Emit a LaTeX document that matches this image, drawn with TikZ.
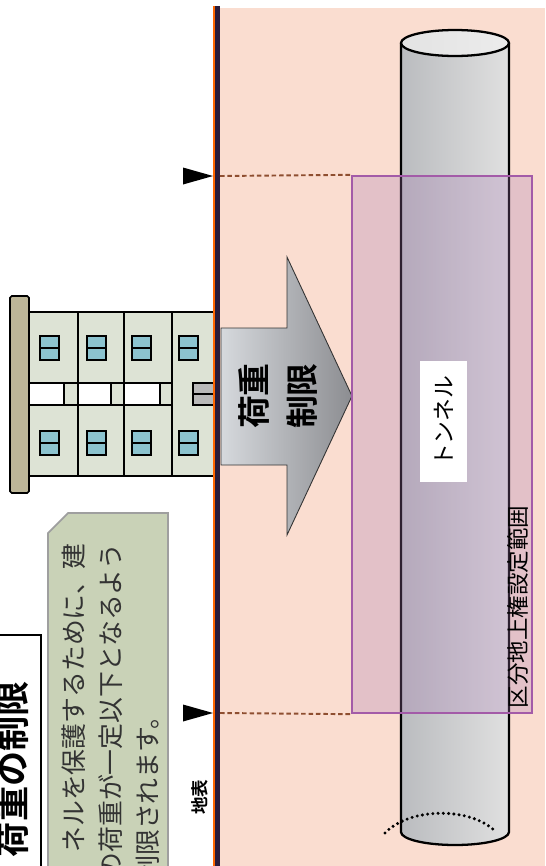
\documentclass[tikz,border=0pt]{standalone}
\usepackage{fontspec}
\setmainfont{Noto Sans CJK JP}[BoldFont={Noto Sans CJK JP Bold}]

\definecolor{soil}{HTML}{FADDD0}
\definecolor{wall}{HTML}{DDE3D5}
\definecolor{glass}{HTML}{8CC3CF}
\definecolor{plate}{HTML}{BDB698}
\definecolor{notebg}{HTML}{C9D2B7}
\definecolor{zonec}{HTML}{A35BA8}
\definecolor{zonefill}{HTML}{A878B4}
\definecolor{dashc}{HTML}{8E4E30}
\definecolor{surf}{HTML}{2A1C3A}
\definecolor{arrowL}{HTML}{D6D9DD}
\definecolor{arrowR}{HTML}{8C8D91}
\definecolor{tubeL}{HTML}{BABCBF}
\definecolor{tubeM}{HTML}{EDEDED}
\definecolor{tubeR}{HTML}{E0E0E0}

\begin{document}
\begin{tikzpicture}[x=0.02cm, y=-0.02cm,
	win/.style = {draw=black, line width=0.9pt, fill=glass},
	cut/.style = {dashc, dash pattern=on 2.6pt off 1.6pt, line width=1.1pt},
	lbl/.style = {rotate=90, inner sep=0pt},
	notetext/.style = {lbl, anchor=east, text=black!80, font=\fontsize{14.7}{17}\selectfont}]
	\useasboundingbox (0,0) rectangle (545,866);
	
	\fill[soil] (218,8) rectangle (545,866);
	
	% title and note
	\draw[fill=white, line width=1.1pt] (-10,635) rectangle (41,880);
	\node[lbl, anchor=east, font=\fontsize{20}{24}\selectfont\bfseries] (title) at (12,681) {荷重の制限};
	
	\draw[fill=notebg, draw=gray!75, line width=1pt] (48,533) -- (68,513) -- (168,513) -- (168,880) -- (48,880) -- cycle;
	\node[notetext] (note1) at (74,543) {ネルを保護するために、建};
	\node[notetext] (note2) at (111,543) {の荷重が一定以下となるよう};
	\node[notetext] (note3) at (148,703) {制限されます。};
	
	% building
	\draw[fill=plate, line width=0.9pt, rounded corners=1pt] (10,296) rectangle (29,493);
	\draw[fill=wall, line width=0.9pt] (29,312) rectangle (216,476);
	\foreach \x in {78,124,172}
		\draw[line width=0.9pt] (\x,312) -- (\x,476);
	\draw[line width=0.9pt] (29,383) -- (172,383) (29,405) -- (172,405);
	\foreach \a/\b in {29/64, 78/111, 124/160}
		\draw[fill=white, line width=0.9pt] (\a,383) rectangle (\b,405);
	\draw[fill=gray!55, line width=0.9pt] (193,383) rectangle (216,405);
	\draw[line width=0.9pt] (193,394) -- (216,394);
	\foreach \x in {40,87,132,179}
		\foreach \y in {336,431} {
			\draw[win] (\x,\y) rectangle ++(19,24);
			\draw[line width=0.9pt] (\x,\y+12) -- ++(19,0);
		}
	
	% ground surface
	\draw[orange!80!red, line width=0.8pt] (214,6) -- (214,866);
	\draw[surf, line width=2.4pt] (217.5,6) -- (217.5,866);
	
	% load arrow
	\shade[left color=arrowL, right color=arrowR, draw=gray!40!black, line width=0.5pt]
		(221,328) -- (287,328) -- (287,257) -- (352,396) -- (287,535) -- (287,465) -- (221,465) -- cycle;
	\node[lbl, align=center, font=\fontsize{18.7}{27.8}\selectfont\bfseries] (load) at (278,396) {荷重\\制限};
	
	% tunnel
	\shade[left color=tubeL, middle color=tubeM, right color=tubeR]
		(401,43) -- (401,832) arc[start angle=180, end angle=0, x radius=54, y radius=13] -- (509,43) -- cycle;
	\draw[line width=1.3pt] (401,43) -- (401,832) arc[start angle=180, end angle=0, x radius=54, y radius=13] -- (509,43);
	\shade[left color=gray!22, middle color=gray!4, right color=gray!15, draw=black, line width=1.3pt]
		(455,43) ellipse [x radius=54, y radius=13];
	\draw[line width=1.9pt, line cap=round, dash pattern=on 0pt off 3pt]
		(385,833) .. controls (410,807) and (470,807) .. (495,831);
	
	% surface right zone
	\node[draw=zonec, line width=1.4pt, fill=zonefill, fill opacity=0.27, inner sep=0pt,
		minimum width=3.6cm, minimum height=10.74cm] (zone) at (442,444.5) {};
	
	\coordinate (s1) at (220,176);
	\coordinate (s2) at (220,713);
	\draw[cut] (s1) -- (zone.north west);
	\draw[cut] (s2) -- (zone.south west);
	
	\coordinate (m1) at (213,176);
	\coordinate (m2) at (213,713);
	\fill (m1) -- ++(-30,-8.5) -- ++(0,17) -- cycle;
	\fill (m2) -- ++(-30,-8.5) -- ++(0,17) -- cycle;
	
	\node[lbl, fill=white, minimum width=2.42cm, minimum height=0.94cm, font=\fontsize{13}{15}\selectfont] (tunnel) at (443.5,421.5) {トンネル};
	\node[lbl, font=\fontsize{12.8}{15}\selectfont] (zonelbl) at (517.5,607) {区分地上権設定範囲};
	\node[lbl, font=\fontsize{10}{12}\selectfont\bfseries] (surface) at (200,797) {地表};
\end{tikzpicture}
\end{document}
